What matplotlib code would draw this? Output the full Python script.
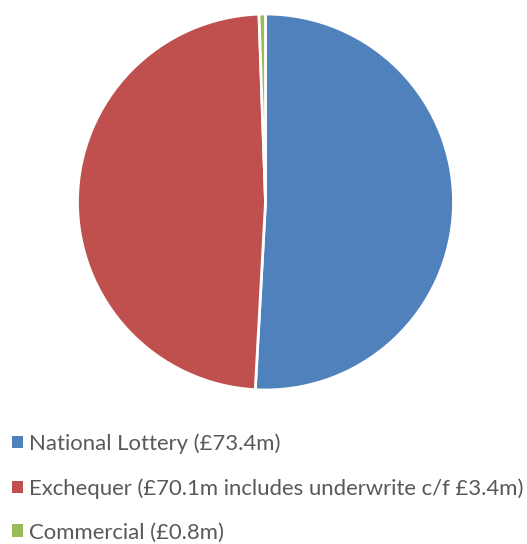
import matplotlib
matplotlib.use("Agg")
import matplotlib.pyplot as plt
from matplotlib.patches import Patch

labels = ["National Lottery (£73.4m)",
          "Exchequer (£70.1m includes underwrite c/f £3.4m)",
          "Commercial (£0.8m)"]
values = [73.4, 70.1, 0.8]
colors = ["#4F81BD", "#C0504D", "#9BBB59"]

W, H = 527, 544
fig = plt.figure(figsize=(W/100, H/100), dpi=100)
fig.patch.set_facecolor("white")

cx, cy, r = 265.5, 202, 188
ax = fig.add_axes([(cx - r)/W, (H - cy - r)/H, 2*r/W, 2*r/H])
ax.pie(values, colors=colors, startangle=90, counterclock=False, radius=1,
       wedgeprops=dict(edgecolor="white", linewidth=2))
ax.set_xlim(-1.0, 1.0)
ax.set_ylim(-1.0, 1.0)
ax.set_aspect("equal")
ax.axis("off")

handles = [Patch(facecolor=c, edgecolor="none") for c in colors]
leg = fig.legend(handles, labels, loc="upper left",
                 bbox_to_anchor=(12/W, (H - 433.5)/H), frameon=False,
                 prop=dict(family="Lato", size=15.95),
                 labelcolor="#595959", handlelength=0.48, handleheight=0.48,
                 handletextpad=0.28, labelspacing=1.08, borderaxespad=0,
                 borderpad=0)
fig.savefig("out.png", dpi=100)
